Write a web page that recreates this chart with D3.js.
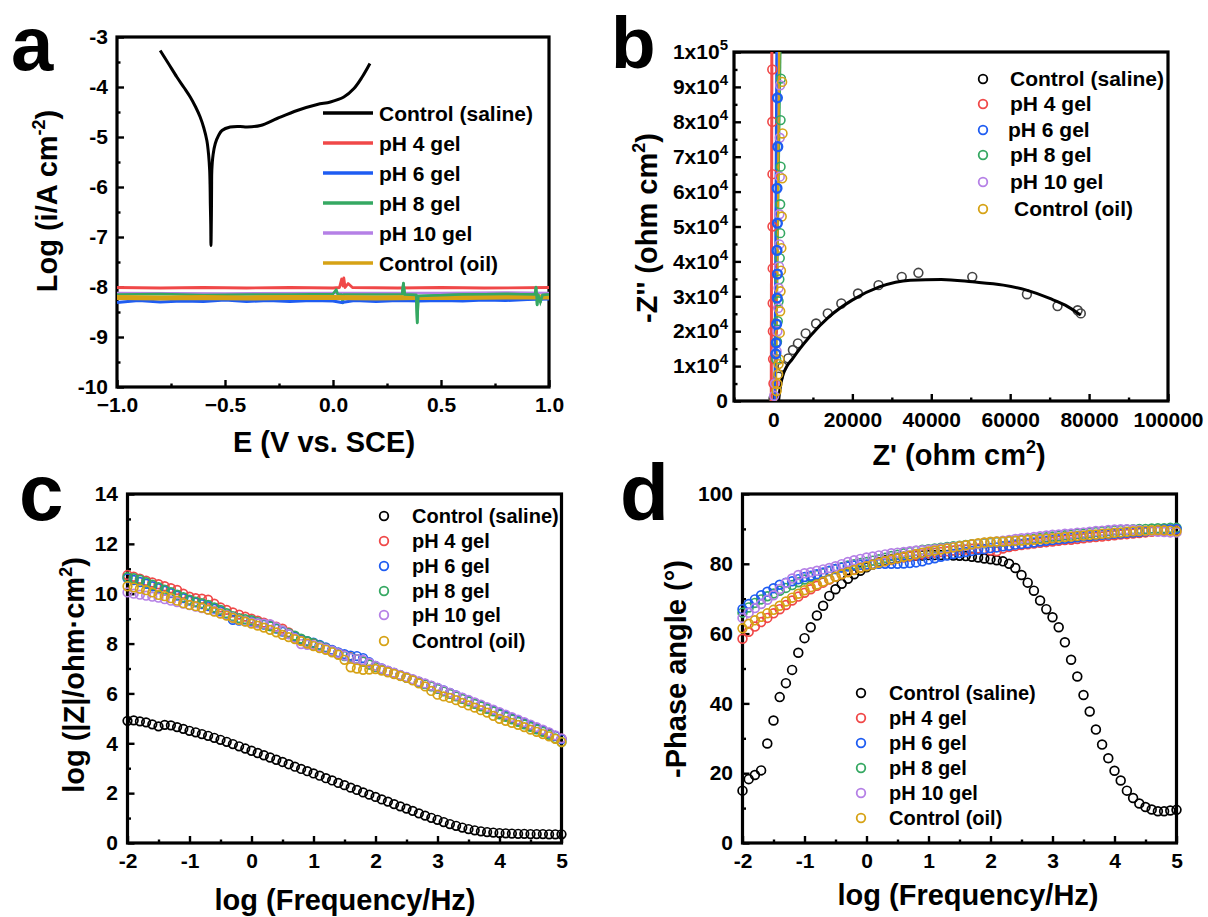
<!DOCTYPE html>
<html><head><meta charset="utf-8">
<script src="https://cdn.jsdelivr.net/npm/d3@7"></script>
<style>body{margin:0;background:#fff}</style>
</head><body><svg id="chart" width="1208" height="917"></svg>
<script>
// ---------------- DATA ----------------
const seriesNames = ["Control (saline)","pH 4 gel","pH 6 gel","pH 8 gel","pH 10 gel","Control (oil)"];
const seriesColors = ["#000000","#f04848","#1e5cf2","#35a862","#b580e6","#d6a215"];

// Panel a: Tafel, [E (V vs SCE), log i]
const tafelSaline = [[-0.800,-3.27],[-0.762,-3.53],[-0.723,-3.80],[-0.690,-4.01],[-0.661,-4.20],[-0.636,-4.40],[-0.615,-4.60],[-0.598,-4.82],[-0.584,-5.07],[-0.576,-5.35],[-0.571,-5.67],[-0.569,-6.00],[-0.568,-6.33],[-0.566,-6.75],[-0.565,-7.17],[-0.563,-6.60],[-0.562,-6.00],[-0.561,-5.67],[-0.555,-5.35],[-0.545,-5.13],[-0.530,-4.97],[-0.514,-4.87],[-0.476,-4.80],[-0.430,-4.79],[-0.398,-4.80],[-0.336,-4.77],[-0.259,-4.63],[-0.166,-4.47],[-0.073,-4.35],[-0.012,-4.30],[0.050,-4.20],[0.097,-4.03],[0.135,-3.80],[0.171,-3.53]];
const tafelPH4 = [[-1.0,-8.01],[-0.8,-8.02],[-0.6,-8.01],[-0.4,-8.02],[-0.2,-8.01],[0.0,-8.02],[0.030,-8.01],[0.040,-7.84],[0.046,-7.98],[0.050,-7.82],[0.056,-8.01],[0.070,-7.93],[0.080,-7.97],[0.090,-8.01],[0.3,-8.02],[0.5,-8.01],[0.7,-8.02],[1.0,-8.01]];
const tafelPH6 = [[-1.0,-8.31],[-0.9,-8.27],[-0.8,-8.30],[-0.7,-8.28],[-0.6,-8.29],[-0.5,-8.26],[-0.4,-8.29],[-0.3,-8.27],[-0.2,-8.29],[-0.1,-8.27],[0.0,-8.28],[0.04,-8.31],[0.1,-8.27],[0.2,-8.29],[0.3,-8.27],[0.4,-8.28],[0.5,-8.27],[0.6,-8.28],[0.7,-8.26],[0.8,-8.27],[0.9,-8.25],[1.0,-8.24]];
const tafelPH8 = [[-1.0,-8.15],[-0.8,-8.14],[-0.6,-8.16],[-0.4,-8.15],[-0.2,-8.15],[0.0,-8.14],[0.015,-8.05],[0.022,-8.15],[0.040,-8.15],[0.045,-8.32],[0.050,-8.15],[0.2,-8.15],[0.320,-8.15],[0.326,-7.92],[0.332,-8.15],[0.385,-8.16],[0.390,-8.72],[0.395,-8.18],[0.6,-8.15],[0.8,-8.14],[0.935,-8.15],[0.940,-8.00],[0.945,-8.36],[0.950,-8.15],[0.960,-8.30],[0.970,-8.16],[1.0,-8.15]];
const tafelPH10 = [[-1.0,-8.12],[-0.5,-8.13],[0.0,-8.12],[0.5,-8.12],[0.8,-8.11],[1.0,-8.12]];
const tafelOil = [[-1.0,-8.21],[-0.8,-8.22],[-0.6,-8.21],[-0.4,-8.22],[-0.2,-8.21],[0.0,-8.21],[0.2,-8.22],[0.4,-8.21],[0.6,-8.21],[0.8,-8.20],[1.0,-8.20]];

// Panel b: Nyquist (Z', -Z'')
const nyqSalineRe = [18,1290,2275,3750,4930,6200,8170,10800,13760,17200,21420,26630,32520,36740,50390,64240,72000,77100,77900];
const nyqSalineIm = [760,6960,9826,12200,14600,16500,19370,22200,25100,27950,30800,33200,35580,36730,35580,30600,27200,26000,25100];
const nyqSalineFitRe = [1300,1600,2275,5220,9150,14060,19950,26830,34680,42540,50390,58250,64140,70030,73960,77890];
const nyqSalineFitIm = [0,3000,6960,12690,18400,24100,28900,32700,34630,34820,34150,33200,31770,29380,27470,24600];
const nyqPH4Re = [-300,-300,-250,-250,-200,-200,-150,-100,0];
const nyqPH4Im = [95000,80000,65000,50000,38000,28000,20000,12000,5000];
const nyqPH6Re = [1000,1100,900,1000,900,1000,950,800,700,600];
const nyqPH6Im = [86860,72860,60940,50940,43140,36370,29510,22000,16660,13510];
const nyqPH8Re = [1900,1800,1800,1700,1700,1600,1500,1300,1100,900,700];
const nyqPH8Im = [92380,80480,67140,56370,48090,40940,34860,28570,22860,17000,12000];
const nyqPH10Re = [1700,1600,1600,1500,1500,1400,1300,1200,1000,800,400,200];
const nyqPH10Im = [90480,75430,64290,53510,44860,38570,32370,26660,20000,14290,5000,1500];
const nyqOilRe = [2200,2300,2200,2100,2000,1900,1800,1700,1600,1500,1300,1200,1000,800];
const nyqOilIm = [91430,76660,63800,52860,43800,37340,31430,25710,19510,11910,10570,7700,4860,2860];
// gel fit lines [Z', -Z''] (bottom, top)
const nyqPH4Fit = [[-550,0],[-400,105000]];
const nyqPH6Fit = [[300,0],[800,105000]];
const nyqPH8Fit = [[500,0],[1800,105000]];
const nyqPH10Fit = [[400,0],[1200,105000]];
const nyqOilFit = [[600,0],[1500,105000]];

// Panels c, d: Bode
const logFreq = [-2.0,-1.9,-1.8,-1.7,-1.6,-1.5,-1.4,-1.3,-1.2,-1.1,-1.0,-0.9,-0.8,-0.7,-0.6,-0.5,-0.4,-0.3,-0.2,-0.1,0.0,0.1,0.2,0.3,0.4,0.5,0.6,0.7,0.8,0.9,1.0,1.1,1.2,1.3,1.4,1.5,1.6,1.7,1.8,1.9,2.0,2.1,2.2,2.3,2.4,2.5,2.6,2.7,2.8,2.9,3.0,3.1,3.2,3.3,3.4,3.5,3.6,3.7,3.8,3.9,4.0,4.1,4.2,4.3,4.4,4.5,4.6,4.7,4.8,4.9,5.0];

const modSaline = [4.90,4.92,4.88,4.84,4.76,4.68,4.74,4.72,4.65,4.58, 4.50,4.44,4.37,4.30,4.22,4.14,4.06,3.97,3.88,3.79, 3.70,3.61,3.52,3.43,3.34,3.25,3.16,3.06,2.97,2.88, 2.79,2.70,2.60,2.51,2.41,2.32,2.22,2.13,2.03,1.94, 1.85,1.75,1.66,1.56,1.47,1.38,1.29,1.19,1.10,1.01, 0.93,0.84,0.76,0.69,0.62,0.56,0.51,0.47,0.44,0.42, 0.40,0.39,0.38,0.37,0.37,0.36,0.36,0.36,0.35,0.35, 0.35];
const modPH4 = [10.75,10.68,10.60,10.52,10.45,10.38,10.30,10.22,10.15,10.00, 9.88,9.82,9.80,9.76,9.60,9.45,9.35,9.25,9.16,9.08, 9.00,8.92,8.84,8.76,8.68,8.60,8.45,8.28,8.15,8.08, 8.00,7.90,7.80,7.72,7.63,7.54,7.46,7.38,7.28,7.17, 7.07,6.98,6.89,6.81,6.72,6.64,6.55,6.46,6.38,6.29, 6.20,6.10,6.00,5.90,5.80,5.70,5.60,5.50,5.40,5.30, 5.20,5.10,5.00,4.90,4.80,4.70,4.60,4.50,4.40,4.30, 4.19];
const modPH6 = [10.62,10.55,10.47,10.40,10.30,10.22,10.12,10.02,9.92,9.82, 9.72,9.65,9.58,9.50,9.40,9.30,9.15,8.95,8.92,8.90, 8.88,8.82,8.76,8.70,8.60,8.48,8.38,8.28,8.18,8.10, 8.04,7.95,7.85,7.75,7.65,7.58,7.52,7.50,7.42,7.25, 7.10,7.00,6.90,6.82,6.73,6.64,6.55,6.46,6.38,6.30, 6.22,6.12,6.02,5.92,5.82,5.72,5.62,5.52,5.42,5.32, 5.22,5.12,5.02,4.92,4.82,4.72,4.62,4.52,4.42,4.30, 4.17];
const modPH8 = [10.66,10.62,10.56,10.46,10.36,10.26,10.16,10.06,9.96,9.86, 9.76,9.68,9.62,9.55,9.45,9.35,9.22,9.10,9.02,8.98, 8.94,8.86,8.78,8.70,8.62,8.52,8.42,8.32,8.20,8.10, 8.02,7.92,7.82,7.70,7.58,7.50,7.44,7.38,7.28,7.16, 7.06,6.97,6.88,6.80,6.72,6.63,6.54,6.46,6.37,6.28, 6.18,6.08,5.98,5.88,5.78,5.68,5.58,5.48,5.38,5.28, 5.16,5.06,4.96,4.86,4.76,4.66,4.56,4.46,4.34,4.20, 4.05];
const modPH10 = [10.05,10.00,9.96,9.92,9.88,9.84,9.78,9.72,9.66,9.60, 9.54,9.48,9.42,9.36,9.30,9.22,9.14,9.05,8.96,8.90, 8.85,8.82,8.80,8.78,8.66,8.52,8.38,8.22,7.98,7.95, 7.94,7.88,7.80,7.72,7.62,7.52,7.42,7.38,7.34,7.22, 7.10,7.00,6.91,6.83,6.74,6.66,6.57,6.48,6.40,6.31, 6.22,6.12,6.02,5.92,5.83,5.74,5.64,5.55,5.45,5.35, 5.25,5.15,5.05,4.95,4.85,4.75,4.65,4.55,4.44,4.32, 4.20];
const modOil = [10.30,10.25,10.20,10.14,10.05,9.95,9.90,9.82,9.72,9.62, 9.55,9.50,9.44,9.36,9.28,9.20,9.12,9.03,8.95,8.88, 8.80,8.72,8.64,8.55,8.45,8.35,8.26,8.18,8.10,8.00, 7.90,7.82,7.75,7.65,7.55,7.35,7.05,7.00,6.95,6.96, 6.98,6.92,6.85,6.78,6.70,6.62,6.52,6.40,6.28,6.10, 5.95,5.88,5.82,5.73,5.62,5.52,5.43,5.33,5.23,5.10, 4.98,4.90,4.82,4.74,4.65,4.55,4.46,4.37,4.28,4.18, 4.05];

const phSaline = [15.0,18.3,19.5,20.8,28.5,35.1,41.8,45.8,49.6,54.5, 58.7,61.8,65.2,68.0,70.8,72.7,74.3,75.7,77.0,78.0, 79.0,79.8,80.5,81.0,81.4,81.7,82.0,82.2,82.3,82.4, 82.5,82.5,82.5,82.5,82.4,82.3,82.2,82.0,81.8,81.5, 81.3,81.0,80.7,80.0,78.8,76.8,74.6,72.3,69.5,67.0, 64.7,61.8,57.5,52.5,47.7,42.4,37.7,32.5,28.2,24.3, 20.7,17.9,15.0,12.9,11.3,10.3,9.6,9.1,9.1,9.3, 9.5];
const phPH4 = [58.5,60.5,62.0,63.3,64.5,65.8,67.0,68.2,69.5,70.6, 71.7,72.7,73.7,74.6,75.5,76.3,77.0,77.7,78.3,78.9, 79.4,79.9,80.3,80.7,81.1,81.5,81.8,82.1,82.4,82.7, 83.0,83.2,83.4,83.6,83.8,84.0,84.1,84.3,84.4,84.2, 83.8,83.6,84.4,84.8,85.1,85.4,85.6,85.8,86.0,86.2, 86.4,86.6,86.8,86.9,87.1,87.3,87.5,87.7,87.8,88.0, 88.2,88.4,88.5,88.7,88.8,89.0,89.2,89.4,89.5,89.7, 89.8];
const phPH6 = [67.0,68.5,69.8,71.0,72.0,73.0,74.0,74.6,75.0,75.6, 76.2,76.6,77.0,77.5,78.0,78.5,78.9,79.2,79.5,79.7, 79.8,79.9,80.0,80.0,80.0,80.0,80.1,80.2,80.4,80.7, 81.2,81.6,82.0,82.4,82.8,83.1,83.4,83.7,84.0,84.2, 84.5,84.7,85.0,85.2,85.5,85.7,85.9,86.1,86.4,86.6, 86.8,87.0,87.2,87.4,87.6,87.8,87.9,88.1,88.3,88.4, 88.6,88.7,88.9,89.0,89.1,89.3,89.5,89.7,89.8,89.9, 90.0];
const phPH8 = [66.0,67.5,68.8,69.8,70.7,71.5,72.3,73.1,73.9,74.7, 75.5,76.2,76.8,77.3,77.9,78.5,79.0,79.5,79.9,80.2, 80.5,80.9,81.3,81.7,82.2,82.6,83.0,83.4,83.7,84.0, 84.2,84.4,84.6,84.8,85.0,85.2,85.4,85.6,85.7,85.9, 86.0,86.2,86.3,86.5,86.6,86.8,87.0,87.2,87.4,87.6, 87.8,88.0,88.2,88.4,88.6,88.7,88.9,89.1,89.3,89.4, 89.6,89.7,89.8,89.9,90.0,90.0,90.1,90.2,90.2,90.3, 90.3];
const phPH10 = [64.5,66.0,67.3,68.5,69.7,71.0,72.8,74.5,75.8,76.8, 77.3,77.6,78.0,78.4,78.8,79.3,79.9,80.5,81.0,81.4, 81.8,82.1,82.4,82.7,83.0,83.2,83.4,83.6,83.8,83.9, 84.0,84.2,84.4,84.6,84.8,85.0,85.2,85.5,85.7,86.0, 86.2,86.4,86.6,86.8,87.1,87.3,87.5,87.7,87.9,88.1, 88.3,88.4,88.6,88.7,88.9,89.0,89.2,89.4,89.5,89.7, 89.8,89.9,89.9,89.8,89.7,89.5,89.4,89.2,89.1,89.0, 89.0];
const phOil = [61.5,62.8,63.8,64.8,65.8,66.8,68.0,69.2,70.3,71.4, 72.4,73.3,74.1,74.9,75.6,76.3,77.0,77.6,78.2,78.8, 79.3,79.8,80.3,80.8,81.2,81.6,82.0,82.4,82.8,83.2, 83.5,83.8,84.1,84.4,84.7,85.0,85.3,85.6,85.9,86.1, 86.3,86.4,86.4,86.5,86.6,86.7,86.8,86.9,87.0,87.2, 87.3,87.5,87.7,87.8,88.0,88.1,88.3,88.4,88.6,88.7, 88.9,89.0,89.2,89.3,89.4,89.5,89.6,89.7,89.6,89.5, 89.3];

// tick values
const aXMajor = [-1.0,-0.5,0.0,0.5,1.0], aXMinor = [-0.75,-0.25,0.25,0.75];
const aYMajor = [-10,-9,-8,-7,-6,-5,-4,-3], aYMinor = [-9.5,-8.5,-7.5,-6.5,-5.5,-4.5,-3.5];
const bXMajor = [0,20000,40000,60000,80000,100000], bXMinor = [-10000,10000,30000,50000,70000,90000];
const bYMajor = [0,10000,20000,30000,40000,50000,60000,70000,80000,90000,100000];
const bYMinor = [5000,15000,25000,35000,45000,55000,65000,75000,85000,95000];
const cdXMajor = [-2,-1,0,1,2,3,4,5], cdXMinor = [-1.5,-0.5,0.5,1.5,2.5,3.5,4.5];
const cYMajor = [0,2,4,6,8,10,12,14], cYMinor = [1,3,5,7,9,11,13];
const dYMajor = [0,20,40,60,80,100], dYMinor = [10,30,50,70,90];

// ---------------- DRAWING ----------------
const svg = d3.select('#chart');
const FONT = '"Liberation Sans", Arial, Helvetica, sans-serif';
const defs = svg.append('defs');

function makePanel(o){
  const x = d3.scaleLinear().domain(o.xd).range([o.l,o.r]);
  const y = d3.scaleLinear().domain(o.yd).range([o.b,o.t]);
  const cid = 'clip-'+o.name;
  defs.append('clipPath').attr('id',cid).append('rect')
    .attr('x',o.l).attr('y',o.t).attr('width',o.r-o.l).attr('height',o.b-o.t);
  const g = svg.append('g');
  const st = s => {
    s.select('.domain').remove();
    s.attr('font-family',null).attr('font-size',null);
    s.selectAll('line').attr('stroke','#000').attr('stroke-width',2.4);
    s.selectAll('text').attr('font-family',FONT).attr('font-size',o.fs).attr('font-weight','bold').attr('fill','#000');
  };
  g.append('g').attr('transform',`translate(0,${o.b})`)
    .call(d3.axisBottom(x).tickValues(o.xMinor).tickSize(-3.5).tickFormat(()=>'')).call(st);
  g.append('g').attr('transform',`translate(${o.l},0)`)
    .call(d3.axisLeft(y).tickValues(o.yMinor).tickSize(-3.5).tickFormat(()=>'')).call(st);
  const gx = g.append('g').attr('transform',`translate(0,${o.b})`)
    .call(d3.axisBottom(x).tickValues(o.xMajor).tickSize(-7).tickPadding(o.xpad).tickFormat(o.xf)).call(st);
  const gy = g.append('g').attr('transform',`translate(${o.l},0)`)
    .call(d3.axisLeft(y).tickValues(o.yMajor).tickSize(-7).tickPadding(o.ypad).tickFormat(o.yf)).call(st);
  g.append('rect').attr('x',o.l).attr('y',o.t).attr('width',o.r-o.l).attr('height',o.b-o.t)
    .attr('fill','none').attr('stroke','#000').attr('stroke-width',3.2);
  const data = svg.append('g');
  return {x,y,gx,gy,data,cid};
}

function label(txt,x,y,size){
  svg.append('text').attr('x',x).attr('y',y).attr('font-family',FONT).attr('font-weight','bold')
    .attr('font-size',size).attr('fill','#000').text(txt);
}
// title with optional superscript: parts = [text, sup, after]
function title(parts,cx,cy,rot,size){
  const t = svg.append('text').attr('transform',`translate(${cx},${cy}) rotate(${rot})`)
    .attr('text-anchor','middle').attr('font-family',FONT).attr('font-weight','bold')
    .attr('font-size',size).attr('fill','#000');
  t.append('tspan').text(parts[0]);
  if(parts[1]){
    const ss = Math.round(size*0.62);
    t.append('tspan').attr('font-size',ss).attr('dy',-size*0.42).text(parts[1]);
    t.append('tspan').attr('dy',size*0.42).text(parts[2]);
  }
}
function circles(p,xs,ys,color,r,sw){
  p.data.append('g').selectAll('circle').data(xs.map((v,i)=>[v,ys[i]])).join('circle')
    .attr('cx',d=>p.x(d[0])).attr('cy',d=>p.y(d[1])).attr('r',r)
    .attr('fill','none').attr('stroke',color).attr('stroke-width',sw);
}
function circleLegend(cx,tx,ys,size,dx){
  seriesNames.forEach((n,i)=>{
    svg.append('circle').attr('cx',cx).attr('cy',ys[i]).attr('r',4.3)
      .attr('fill','none').attr('stroke',seriesColors[i]).attr('stroke-width',1.8);
    svg.append('text').attr('x',tx+(dx?dx[i]:0)).attr('y',ys[i]).attr('dy','0.35em')
      .attr('font-family',FONT).attr('font-weight','bold').attr('font-size',size).attr('fill','#000').text(n);
  });
}

// ---- Panel a ----
const pa = makePanel({name:'a',l:117,r:549,t:37,b:387,xd:[-1,1],yd:[-10,-3],
  xMajor:aXMajor,xMinor:aXMinor,yMajor:aYMajor,yMinor:aYMinor,xpad:10,ypad:9,fs:21,
  xf:d3.format('.1f'),yf:d=>String(d)});
const lineA = d3.line().x(d=>pa.x(d[0])).y(d=>pa.y(d[1]));
const ga = pa.data.append('g').attr('clip-path',`url(#${pa.cid})`);
[[tafelPH4,1,2.8],[tafelPH10,4,2.6],[tafelPH8,3,2.6],[tafelPH6,2,3],[tafelOil,5,5.2]].forEach(([d,i,w])=>{
  ga.append('path').attr('d',lineA(d)).attr('fill','none').attr('stroke',seriesColors[i]).attr('stroke-width',w).attr('stroke-linejoin','round');
});
// pH 8 spikes on top
ga.append('path').attr('d',lineA(tafelPH8.filter(d=>d[0]>0.3))).attr('fill','none').attr('stroke',seriesColors[3]).attr('stroke-width',2.6);
ga.append('path').attr('d',d3.line().curve(d3.curveCatmullRom.alpha(0.5)).x(d=>pa.x(d[0])).y(d=>pa.y(d[1]))(tafelSaline))
  .attr('fill','none').attr('stroke','#000').attr('stroke-width',3).attr('stroke-linejoin','round');
// legend a
const legAy = [113,143,173,203,233,263];
seriesNames.forEach((n,i)=>{
  svg.append('line').attr('x1',323).attr('x2',373).attr('y1',legAy[i]).attr('y2',legAy[i])
    .attr('stroke',seriesColors[i]).attr('stroke-width',3.5);
  svg.append('text').attr('x',379).attr('y',legAy[i]).attr('dy','0.36em').attr('font-family',FONT)
    .attr('font-weight','bold').attr('font-size',21).attr('fill','#000').text(n);
});
label('a',11,70,76);
title(['Log (i/A cm','-2',')'],57,201,-90,29);
title(['E (V vs. SCE)'],324,452,0,29);

// ---- Panel b ----
const pb = makePanel({name:'b',l:734,r:1168,t:52,b:401,xd:[-10000,100000],yd:[0,100000],
  xMajor:bXMajor,xMinor:bXMinor,yMajor:bYMajor,yMinor:bYMinor,xpad:11,ypad:6,fs:21,
  xf:d=>String(d),yf:()=>''});
pb.gy.selectAll('.tick').each(function(d){
  const t = d3.select(this).select('text');
  if(d===0){ t.text('0'); return; }
  const e = Math.floor(Math.log10(d)+1e-9), m = Math.round(d/Math.pow(10,e));
  t.append('tspan').text(m+'x10');
  t.append('tspan').attr('font-size',15).attr('dy','-0.6em').text(e);
});
const gb = pb.data.append('g').attr('clip-path',`url(#${pb.cid})`);
circles({data:gb,x:pb.x,y:pb.y},nyqSalineRe,nyqSalineIm,'#444',4.4,1.6);
const fitLine = d3.line().curve(d3.curveMonotoneX).x(d=>pb.x(d[0])).y(d=>pb.y(d[1]));
gb.append('path').attr('d',fitLine(nyqSalineFitRe.map((v,i)=>[v,nyqSalineFitIm[i]])))
  .attr('fill','none').attr('stroke','#000').attr('stroke-width',3);
const gelFits = [[nyqPH4Fit,1],[nyqPH8Fit,3],[nyqPH10Fit,4],[nyqOilFit,5],[nyqPH6Fit,2]];
gelFits.forEach(([d,i])=>{
  gb.append('path').attr('d',d3.line().x(p=>pb.x(p[0])).y(p=>pb.y(p[1]))(d))
    .attr('fill','none').attr('stroke',seriesColors[i]).attr('stroke-width',i===1?3:2.4);
});
[[nyqPH4Re,nyqPH4Im,1,1.6],[nyqPH8Re,nyqPH8Im,3,1.6],[nyqPH10Re,nyqPH10Im,4,1.6],[nyqOilRe,nyqOilIm,5,1.6],[nyqPH6Re,nyqPH6Im,2,2.4]]
  .forEach(([xs,ys,i,w])=>circles({data:gb,x:pb.x,y:pb.y},xs,ys,seriesColors[i],4.4,w));
circleLegend(983,1010,[79,104,130,155,182,209],21,[0,0,-2,0,0,4]);
label('b',611,68,73);
title(["-Z'' (ohm cm",'2',')'],657,228,-90,29);
title(["Z' (ohm cm",'2',')'],959,465,0,29);

// ---- Panel c ----
const pc = makePanel({name:'c',l:127.5,r:561.5,t:494,b:843,xd:[-2,5],yd:[0,14],
  xMajor:cdXMajor,xMinor:cdXMinor,yMajor:cYMajor,yMinor:cYMinor,xpad:10,ypad:9.5,fs:21,
  xf:d=>String(d),yf:d=>String(d)});
[[modSaline,0],[modPH4,1],[modPH6,2],[modPH8,3],[modPH10,4],[modOil,5]].forEach(([v,i])=>
  circles(pc,logFreq,v,seriesColors[i],4.3,1.7));
circleLegend(384,412,[516,541,566,591,615,641],20);
label('c',19,520,80);
title(['log (|Z|/ohm·cm','2',')'],84,675,-90,29);
title(['log (Frequency/Hz)'],345,910,0,29);

// ---- Panel d ----
const pd = makePanel({name:'d',l:742.5,r:1176.5,t:494,b:843,xd:[-2,5],yd:[0,100],
  xMajor:cdXMajor,xMinor:cdXMinor,yMajor:dYMajor,yMinor:dYMinor,xpad:10,ypad:9.5,fs:21,
  xf:d=>String(d),yf:d=>String(d)});
[[phSaline,0],[phPH4,1],[phPH8,3],[phPH6,2],[phPH10,4],[phOil,5]].forEach(([v,i])=>
  circles(pd,logFreq,v,seriesColors[i],4.4,1.7));
circleLegend(861,889,[693,718,743,768,793,818],20);
label('d',620,520,80);
title(['-Phase angle (°)'],686,669,-90,29);
title(['log (Frequency/Hz)'],968,905,0,29);
</script></body></html>
